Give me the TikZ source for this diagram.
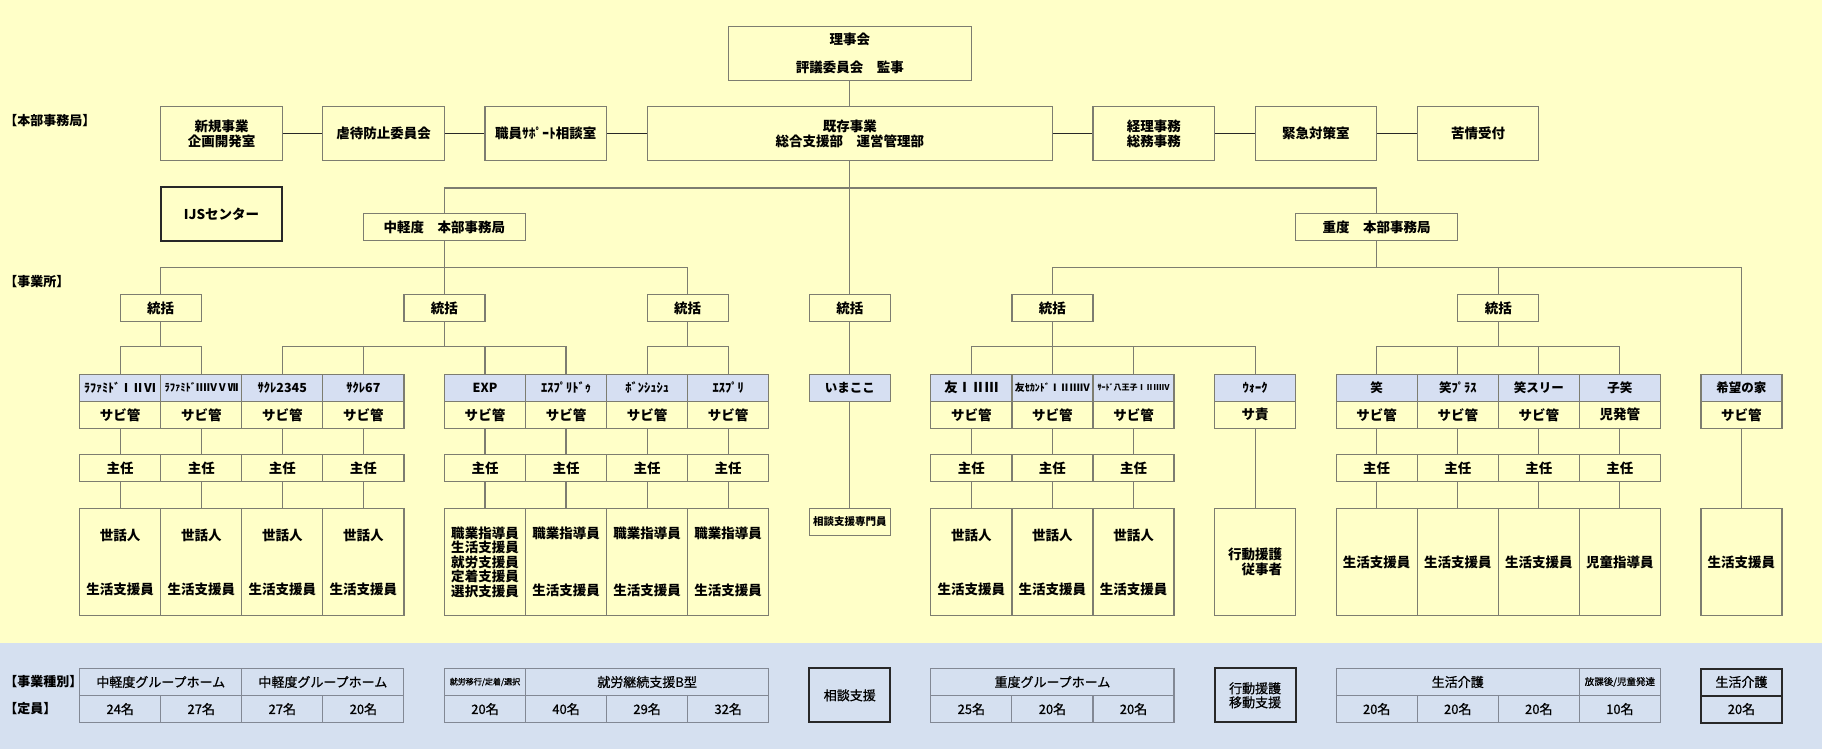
\documentclass[tikz,border=0pt]{standalone}
\usepackage{fontspec}
\setmainfont{Noto Sans CJK JP}
\newfontface\medface{Noto Sans CJK JP}[FakeBold=0.7]
\definecolor{paper}{RGB}{255,255,200}
\definecolor{band}{RGB}{213,224,240}
\definecolor{headblue}{RGB}{214,223,242}
\definecolor{linegray}{RGB}{125,125,112}
\definecolor{tablegray}{RGB}{130,136,148}
\definecolor{darkline}{RGB}{40,40,40}
\newcommand{\sewa}{世話人\\[39.5pt]生活支援員}
\newcommand{\shokushi}{職業指導員\\[43pt]生活支援員}
\newcommand{\exps}{職業指導員\\生活支援員\\就労支援員\\定着支援員\\選択支援員}
\tikzset{
  cols/.style={minimum width=#1*40.53pt},
  box/.style={draw=linegray, line width=1.2pt, fill=paper, inner sep=0pt, align=center,
    minimum height=27pt, font=\bfseries\fontsize{13.5}{14.5}\selectfont},
  head/.style={box, fill=headblue, font=\bfseries\fontsize{12.5}{14}\selectfont},
  cell/.style={draw=tablegray, line width=1.1pt, fill=band, inner sep=0pt, align=center,
    minimum height=27pt, font=\medface\fontsize{13}{14}\selectfont},
  heavy/.style={cell, draw=darkline, line width=2pt},
  link/.style={draw=linegray, line width=1.2pt},
  tie/.style={draw=darkline, line width=1.2pt},
  tag/.style={anchor=west, inner sep=0pt, font=\bfseries\fontsize{13}{14}\selectfont}
}
\begin{document}
\begin{tikzpicture}[x=40.53pt, y=-1pt]
% background
\fill[paper] (-1.966,0) rectangle (42.987,749);
\fill[band] (-1.966,642.5) rectangle (42.987,749);

% board and head office
\node[box, cols=6, minimum height=54pt] (riji) at (19,53.3) {理事会\\[13pt]評議委員会　監事};
\node[box, cols=3, minimum height=54pt] (shinki) at (3.5,133.7) {新規事業\\企画開発室};
\node[box, cols=3, minimum height=54pt] (gyaku) at (7.5,133.7) {虐待防止委員会};
\node[box, cols=3, minimum height=54pt] (shokuin) at (11.5,133.7) {職員ｻﾎﾟｰﾄ相談室};
\node[box, cols=10, minimum height=54pt] (kizon) at (19,133.7) {既存事業\\総合支援部　運営管理部};
\node[box, cols=3, minimum height=54pt] (keiri) at (26.5,133.7) {経理事務\\総務事務};
\node[box, cols=3, minimum height=54pt] (kinkyu) at (30.5,133.7) {緊急対策室};
\node[box, cols=3, minimum height=54pt] (kujo) at (34.5,133.7) {苦情受付};
\node[box, cols=3, minimum height=53.7pt, draw=darkline, line width=1.8pt] (ijs) at (3.5,213.9) {IJSセンター};
\node[box, cols=4] (chu) at (9,227) {中軽度　本部事務局};
\node[box, cols=4] (ju) at (32,227) {重度　本部事務局};
\foreach \cx in {2,9,15,19,24,35}
  \node[box, cols=2] (t\cx) at (\cx,308) {統括};

\node[tag] (lhonbu) at (-1.86,120.7) {【本部事務局】};
\node[tag] (ljigyo) at (-1.86,282) {【事業所】};

% facilities
\foreach \cx/\hd/\mg/\st in {
    1/{\fontsize{12}{13}\selectfont ﾗﾌｧﾐﾄﾞⅠⅡⅥ}/サビ管/\sewa,
    3/{\fontsize{10.5}{11}\selectfont ﾗﾌｧﾐﾄﾞⅢⅣⅤⅦ}/サビ管/\sewa,
    5/ｻｸﾚ2345/サビ管/\sewa,
    7/ｻｸﾚ67/サビ管/\sewa,
    10/EXP/サビ管/\exps,
    12/ｴｽﾌﾟﾘﾄﾞｩ/サビ管/\shokushi,
    14/ﾎﾞﾝｼｭｼｭ/サビ管/\shokushi,
    16/ｴｽﾌﾟﾘ/サビ管/\shokushi,
    22/{\fontsize{13.5}{14}\selectfont 友ⅠⅡⅢ}/サビ管/\sewa,
    24/{\fontsize{10}{11}\selectfont 友ｾｶﾝﾄﾞⅠⅡⅢⅣ}/サビ管/\sewa,
    26/{\fontsize{8}{9}\selectfont ｻｰﾄﾞ八王子ⅠⅡⅢⅣ}/サビ管/\sewa,
    32/笑/サビ管/生活支援員,
    34/笑ﾌﾟﾗｽ/サビ管/生活支援員,
    36/笑スリー/サビ管/生活支援員,
    38/子笑/児発管/児童指導員}
{
  \node[head, cols=2] (h\cx) at (\cx,387.8) {\hd};
  \node[box, cols=2] (m\cx) at (\cx,414.8) {\mg};
  \node[box, cols=2] (s\cx) at (\cx,468) {主任};
  \node[box, cols=2, minimum height=107.4pt] (w\cx) at (\cx,562) {\st};
  \draw[link] (m\cx) -- (s\cx);
  \draw[link] (s\cx) -- (w\cx);
}
\node[head, cols=2] (h19) at (19,387.8) {いまここ};
\node[box, cols=2, minimum height=27.4pt, font=\bfseries\fontsize{10.5}{12}\selectfont] (w19) at (19,522) {相談支援専門員};
\node[head, cols=2] (h29) at (29,387.8) {ｳｫｰｸ};
\node[box, cols=2] (m29) at (29,414.8) {サ責};
\node[box, cols=2, minimum height=107.4pt, align=left] (w29) at (29,562) {行動援護\\　従事者};
\node[head, cols=2] (h41) at (41,387.8) {希望の家};
\node[box, cols=2] (m41) at (41,414.8) {サビ管};
\node[box, cols=2, minimum height=107.4pt] (w41) at (41,562) {生活支援員};

% tree
\draw[link] (riji) -- (kizon);
\foreach \a/\b in {shinki/gyaku, gyaku/shokuin, shokuin/kizon, kizon/keiri, keiri/kinkyu, kinkyu/kujo}
  \draw[tie] (\a) -- (\b);
\draw[link] (kizon.south) -- (t19.north);
\foreach \n in {chu,ju}
  \draw[link] (kizon.south) -- ++(0,26.6) -| (\n.north);
\foreach \n in {t2,t9,t15}
  \draw[link] (chu.south) -- ++(0,26.6) -| (\n.north);
\foreach \n in {t24,t35,h41}
  \draw[link] (ju.south) -- ++(0,26.6) -| (\n.north);
\foreach \tp/\hp in {2/1,2/3,9/5,9/7,9/10,9/12,15/14,15/16,24/22,24/24,24/26,24/29,35/32,35/34,35/36,35/38}
  \draw[link] (t\tp.south) -- ++(0,24.6) -| (h\hp.north);
\draw[link] (t19) -- (h19);
\draw[link] (h19) -- (w19);
\draw[link] (m29) -- (w29);
\draw[link] (m41) -- (w41);

% capacity table
\node[tag] (lshu) at (-1.86,682) {【事業種別】};
\node[tag] (lteiin) at (-1.86,709) {【定員】};
\node[cell, cols=4] (k1) at (2,682) {中軽度グループホーム};
\node[cell, cols=4] (k2) at (6,682) {中軽度グループホーム};
\node[cell, cols=2, font=\medface\fontsize{8}{9}\selectfont] (k3) at (10,682) {就労移行/定着/選択};
\node[cell, cols=6] (k4) at (14,682) {就労継続支援B型};
\node[heavy, cols=2, minimum height=54pt] (k5) at (19,695.3) {相談支援};
\node[cell, cols=6] (k6) at (24,682) {重度グループホーム};
\node[heavy, cols=2, minimum height=54pt] (k7) at (29,695.3) {行動援護\\移動支援};
\node[cell, cols=6] (k8) at (34,682) {生活介護};
\node[cell, cols=2, font=\medface\fontsize{9.5}{10}\selectfont] (k9) at (38,682) {放課後/児童発達};
\node[heavy, cols=2] (k10) at (41,682) {生活介護};
\foreach \cx/\v in {1/24,3/27,5/27,7/20,10/20,12/40,14/29,16/32,22/25,24/20,26/20,32/20,34/20,36/20,38/10}
  \node[cell, cols=2] (v\cx) at (\cx,709) {\v 名};
\node[heavy, cols=2] (v41) at (41,709) {20名};
\end{tikzpicture}
\end{document}
